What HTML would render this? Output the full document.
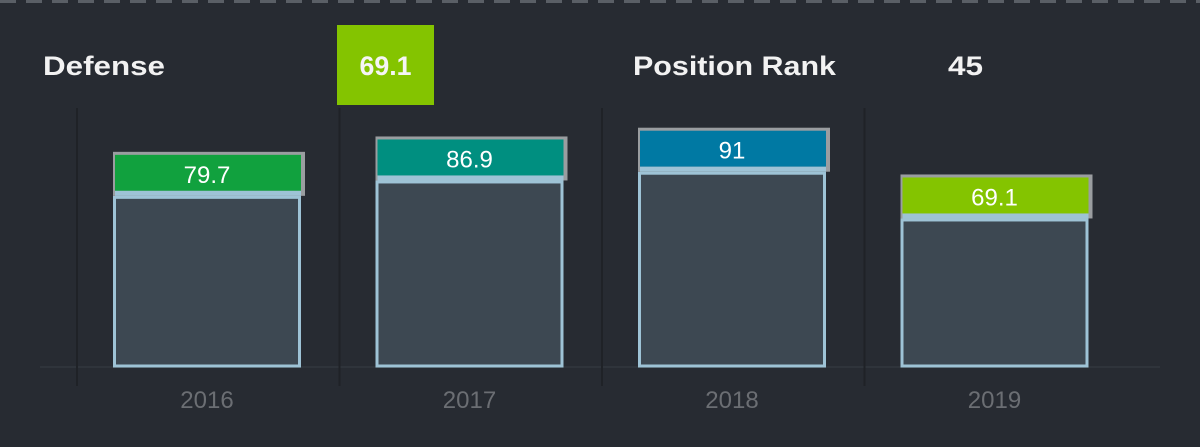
<!DOCTYPE html>
<html><head><meta charset="utf-8"><style>
html,body{margin:0;padding:0;background:#272b32;}
svg{display:block;font-family:"Liberation Sans",sans-serif;}
</style></head><body>
<svg id="chart" width="1200" height="447" viewBox="0 0 1200 447">
<rect x="0" y="0" width="1200" height="447" fill="#272b32"/>
<line x1="0" y1="1.5" x2="1200" y2="1.5" stroke="#5a5f66" stroke-width="3" stroke-dasharray="16,10"/>
<text x="43" y="75" fill="#f2f2f2" font-size="27" font-weight="bold" textLength="122" lengthAdjust="spacingAndGlyphs">Defense</text>
<rect x="337" y="25" width="97" height="80" fill="#84c400"/>
<text x="385.5" y="75" fill="#f5f5f5" font-size="27" font-weight="bold" text-anchor="middle" textLength="52" lengthAdjust="spacingAndGlyphs">69.1</text>
<text x="633" y="75" fill="#f2f2f2" font-size="27" font-weight="bold" textLength="203" lengthAdjust="spacingAndGlyphs">Position Rank</text>
<text x="948" y="75" fill="#f2f2f2" font-size="27" font-weight="bold" textLength="35" lengthAdjust="spacingAndGlyphs">45</text>
<line x1="40" y1="367" x2="1160" y2="367" stroke="#2f343b" stroke-width="2"/>
<g id="marks"></g>
</svg>
<script>
const categories = ["2016","2017","2018","2019"];
const values = [79.7, 86.9, 91, 69.1];
const labelColors = ["#11a13e","#008f80","#0079a3","#84c400"];

const NS = "http://www.w3.org/2000/svg";
const g = document.getElementById('marks');
const baseY = 366, pxPerUnit = 2.135, colW = 262.5, col0 = 77, barOff = 36, barW = 188, boxH = 44;
function xCol(i){ return col0 + i*colW; }
function yVal(v){ return baseY - v*pxPerUnit; }
function mk(tag, attrs){ const e=document.createElementNS(NS,tag); for(const k in attrs) e.setAttribute(k,attrs[k]); g.appendChild(e); return e; }

categories.forEach((c,i)=>{
  const x0 = xCol(i);
  const d = mk('line',{x1:x0,y1:108,x2:x0,y2:386,stroke:'#1f2227','stroke-width':2});
  
  
  const bx = x0 + barOff, top = yVal(values[i]);
  const bar = mk('rect',{x:bx+1.5,y:top+1.5,width:barW-3,height:baseY-top-1.5,fill:'#3d4852',stroke:'#9ec3d6','stroke-width':3});
  
  
  const by = top - boxH;
  const box = mk('rect',{x:bx,y:by,width:barW+4,height:boxH,fill:'#9a9da0'});
  
  
  const fill = mk('rect',{x:bx+2,y:by+3,width:barW-2,height:boxH-8,fill:labelColors[i]});
  
  
  const band = mk('rect',{x:bx+2,y:by+boxH-5,width:barW-2,height:5,fill:'#9ec3d6'});
  
  
  const t = mk('text',{x:bx+barW/2,y:by+31,fill:'#ffffff','font-size':24,'text-anchor':'middle'});
  t.textContent = String(values[i]);
  
  
  const yl = mk('text',{x:bx+barW/2,y:408,fill:'#6b6e73','font-size':24,'text-anchor':'middle'});
  yl.textContent = c;
  
  
});
</script>
</body></html>
